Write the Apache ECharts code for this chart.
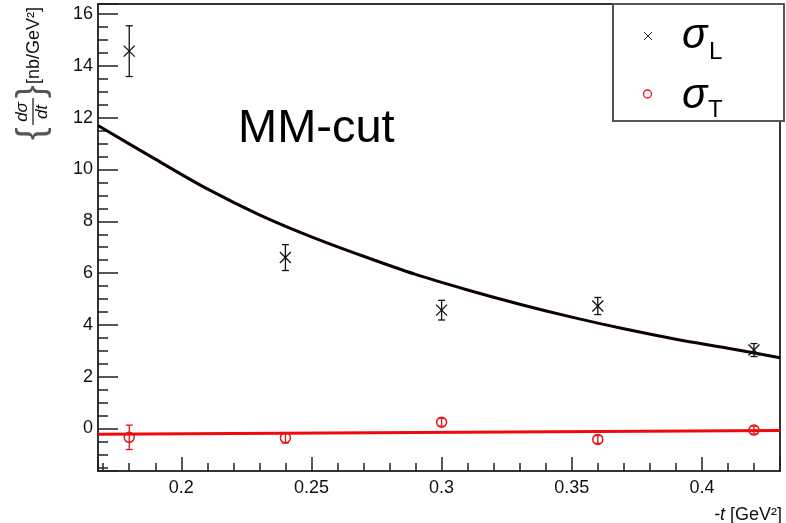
<!DOCTYPE html>
<html>
<head>
<meta charset="utf-8">
<script src="https://cdn.jsdelivr.net/npm/echarts@6/dist/echarts.min.js"></script>
<style>
  html, body { margin: 0; padding: 0; background: #fff; }
  #chart { width: 786px; height: 523px; }
</style>
</head>
<body>
<div id="chart"></div>
<script>
// Measured cross sections vs -t
const tValues   = [0.18, 0.24, 0.30, 0.36, 0.42];
const sigmaL    = [14.57, 6.60, 4.57, 4.73, 3.03];
const sigmaLErr = [0.98, 0.50, 0.38, 0.33, 0.25];
const sigmaT    = [-0.34, -0.36, 0.24, -0.42, -0.06];
const sigmaTErr = [0.47, 0.20, 0.15, 0.15, 0.15];

// Fitted curves, sampled along -t
const fitLT = [0.168, 0.19, 0.21, 0.23, 0.25, 0.27, 0.29, 0.31, 0.33, 0.35, 0.37, 0.39, 0.41, 0.43];
const fitL  = [11.7, 10.4, 9.25, 8.25, 7.4, 6.65, 5.95, 5.35, 4.8, 4.3, 3.85, 3.45, 3.1, 2.73];
const fitTT = [0.168, 0.43];
const fitT  = [-0.22, -0.08];

// Tick labels
const xTickLabels = ['0.2', '0.25', '0.3', '0.35', '0.4'];
const yTickLabels = ['0', '2', '4', '6', '8', '10', '12', '14', '16'];

const FONT = 'Liberation Sans, Arial, Helvetica, sans-serif';
const X_MIN = 0.168, X_MAX = 0.430;
const Y_MIN = -1.64, Y_MAX = 16.39;

function pickLabel(list) {
  return function (v) {
    for (const s of list) {
      if (Math.abs(parseFloat(s) - v) < 1e-6) return s;
    }
    return '';
  };
}

function errorBarItem(kind) {
  return function (params, api) {
    const x = api.value(0), y = api.value(1), e = api.value(2);
    const p = api.coord([x, y]);
    const top = api.coord([x, y + e]);
    const bot = api.coord([x, y - e]);
    const color = kind === 'L' ? '#111' : '#e8141b';
    const cap = 3.5;
    const children = [
      { type: 'line', shape: { x1: p[0], y1: top[1], x2: p[0], y2: bot[1] }, style: { stroke: color, lineWidth: 1.3 } },
      { type: 'line', shape: { x1: p[0] - cap, y1: top[1], x2: p[0] + cap, y2: top[1] }, style: { stroke: color, lineWidth: 1.3 } },
      { type: 'line', shape: { x1: p[0] - cap, y1: bot[1], x2: p[0] + cap, y2: bot[1] }, style: { stroke: color, lineWidth: 1.3 } }
    ];
    if (kind === 'L') {
      const h = 5.5;
      children.push({ type: 'line', shape: { x1: p[0] - h, y1: p[1] - h, x2: p[0] + h, y2: p[1] + h }, style: { stroke: color, lineWidth: 1.3 } });
      children.push({ type: 'line', shape: { x1: p[0] - h, y1: p[1] + h, x2: p[0] + h, y2: p[1] - h }, style: { stroke: color, lineWidth: 1.3 } });
    } else {
      children.push({ type: 'circle', shape: { cx: p[0], cy: p[1], r: 5 }, style: { fill: 'none', stroke: color, lineWidth: 1.5 } });
    }
    return { type: 'group', children: children };
  };
}

const chart = echarts.init(document.getElementById('chart'), null, { renderer: 'canvas' });

const axisLabelStyle = { color: '#111', fontSize: 18, fontFamily: FONT };

chart.setOption({
  animation: false,
  backgroundColor: '#fff',
  grid: {
    left: 98, right: 6, top: 4, bottom: 52,
    show: true, borderColor: '#333', borderWidth: 2
  },
  xAxis: [
    {
      type: 'value', position: 'bottom', min: X_MIN, max: X_MAX, splitNumber: 5,
      axisLine: { show: true, onZero: false, lineStyle: { color: '#333', width: 2 } },
      axisTick: { show: true, inside: true, length: 14, lineStyle: { color: '#222', width: 1.5 } },
      axisLabel: Object.assign({ margin: 8, formatter: pickLabel(xTickLabels) }, axisLabelStyle),
      splitLine: { show: false }
    },
    {
      type: 'value', position: 'bottom', min: X_MIN, max: X_MAX, splitNumber: 26,
      axisLine: { show: false, onZero: false },
      axisTick: { show: true, inside: true, length: 8, lineStyle: { color: '#222', width: 1.5 } },
      axisLabel: { show: false },
      splitLine: { show: false }
    }
  ],
  yAxis: [
    {
      type: 'value', position: 'left', min: Y_MIN, max: Y_MAX, splitNumber: 9,
      axisLine: { show: true, onZero: false, lineStyle: { color: '#333', width: 2 } },
      axisTick: { show: true, inside: true, length: 20, lineStyle: { color: '#222', width: 1.5 } },
      axisLabel: Object.assign({ margin: 5, formatter: pickLabel(yTickLabels) }, axisLabelStyle),
      splitLine: { show: false }
    },
    {
      type: 'value', position: 'left', min: Y_MIN, max: Y_MAX, splitNumber: 36,
      axisLine: { show: false, onZero: false },
      axisTick: { show: true, inside: true, length: 10, lineStyle: { color: '#222', width: 1.5 } },
      axisLabel: { show: false },
      splitLine: { show: false }
    }
  ],
  series: [
    {
      name: 'fitL', type: 'line', xAxisIndex: 0, yAxisIndex: 0, smooth: 0.3, symbol: 'none',
      data: fitLT.map((t, i) => [t, fitL[i]]),
      lineStyle: { color: '#0d0000', width: 3 }, z: 3
    },
    {
      name: 'fitT', type: 'line', xAxisIndex: 0, yAxisIndex: 0, symbol: 'none',
      data: fitTT.map((t, i) => [t, fitT[i]]),
      lineStyle: { color: '#ee0a0a', width: 3 }, z: 3
    },
    {
      name: 'sigmaL', type: 'custom', xAxisIndex: 0, yAxisIndex: 0,
      renderItem: errorBarItem('L'),
      data: tValues.map((t, i) => [t, sigmaL[i], sigmaLErr[i]]), z: 4
    },
    {
      name: 'sigmaT', type: 'custom', xAxisIndex: 0, yAxisIndex: 0,
      renderItem: errorBarItem('T'),
      data: tValues.map((t, i) => [t, sigmaT[i], sigmaTErr[i]]), z: 4
    }
  ],
  graphic: [
    // y-axis title, written bottom to top
    {
      type: 'group', x: 0, y: 140, rotation: Math.PI / 2,
      children: [
        { type: 'text', x: 0, y: 33, style: { text: '{', font: '38px ' + FONT, fill: '#555', verticalAlign: 'middle', align: 'left' } },
        { type: 'text', x: 28, y: 31, style: { text: 'dσ', font: 'italic 17px ' + FONT, fill: '#111', verticalAlign: 'bottom', align: 'center' } },
        { type: 'line', shape: { x1: 15, y1: 33, x2: 42, y2: 33 }, style: { stroke: '#111', lineWidth: 1.2 } },
        { type: 'text', x: 28, y: 34, style: { text: 'dt', font: 'italic 17px ' + FONT, fill: '#111', verticalAlign: 'top', align: 'center' } },
        { type: 'text', x: 42, y: 33, style: { text: '}', font: '38px ' + FONT, fill: '#555', verticalAlign: 'middle', align: 'left' } },
        { type: 'text', x: 56, y: 34, style: { text: '[nb/GeV²]', font: '18px ' + FONT, fill: '#111', verticalAlign: 'middle', align: 'left' } }
      ]
    },
    // x-axis title
    {
      type: 'text', right: 4, top: 506,
      style: {
        text: '{i|-t} [GeV²]', font: '18px ' + FONT, fill: '#111',
        rich: { i: { fontStyle: 'italic', fontSize: 18, fontFamily: FONT, fill: '#111' } }
      }
    },
    // selection label
    {
      type: 'text', x: 238, y: 129,
      style: { text: 'MM-cut', font: '47px ' + FONT, fill: '#000', verticalAlign: 'middle', align: 'left' }
    },
    // legend box
    {
      type: 'group', z: 100,
      children: [
        { type: 'rect', shape: { x: 613, y: 4, width: 171, height: 117 }, style: { fill: '#fff', stroke: '#555', lineWidth: 2 } },
        { type: 'line', shape: { x1: 644, y1: 32, x2: 652, y2: 40 }, style: { stroke: '#222', lineWidth: 1 } },
        { type: 'line', shape: { x1: 644, y1: 40, x2: 652, y2: 32 }, style: { stroke: '#222', lineWidth: 1 } },
        { type: 'text', x: 682, y: 36, style: { text: 'σ', font: 'italic 42px ' + FONT, fill: '#000', verticalAlign: 'middle', align: 'left' } },
        { type: 'text', x: 709, y: 52, style: { text: 'L', font: '24px ' + FONT, fill: '#000', verticalAlign: 'middle', align: 'left' } },
        { type: 'circle', shape: { cx: 647.5, cy: 94, r: 4 }, style: { fill: 'none', stroke: '#e8141b', lineWidth: 1.3 } },
        { type: 'text', x: 682, y: 96, style: { text: 'σ', font: 'italic 42px ' + FONT, fill: '#000', verticalAlign: 'middle', align: 'left' } },
        { type: 'text', x: 708, y: 110, style: { text: 'T', font: '24px ' + FONT, fill: '#000', verticalAlign: 'middle', align: 'left' } }
      ]
    }
  ]
});
</script>
</body>
</html>
